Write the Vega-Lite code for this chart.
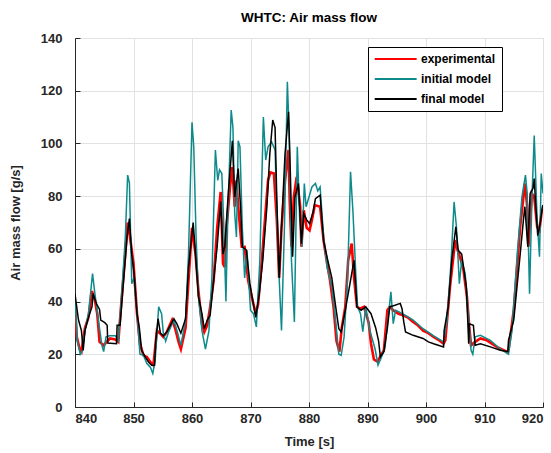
{
  "$schema": "https://vega.github.io/schema/vega-lite/v6.json",
  "width": 468,
  "height": 369,
  "autosize": {"type": "none"},
  "padding": {"left": 75, "top": 38, "right": 8, "bottom": 46},
  "background": "white",
  "title": {"text": "WHTC: Air mass flow", "font": "Liberation Sans", "fontSize": 13.5, "fontWeight": "bold", "color": "#000000", "anchor": "middle", "offset": 8},
  "config": {
    "view": {"stroke": "#c8c8c8", "strokeWidth": 1},
    "axis": {
      "labelFont": "Liberation Sans", "labelFontWeight": "bold", "labelFontSize": 13, "labelColor": "#262626",
      "titleFont": "Liberation Sans", "titleFontWeight": "bold", "titleFontSize": 13, "titleColor": "#262626",
      "domainColor": "#262626", "tickColor": "#262626", "tickSize": -5, "gridColor": "#e2e2e2", "gridWidth": 1
    },
    "legend": {
      "orient": "none", "legendX": 293, "legendY": 9, "direction": "vertical",
      "fillColor": "white", "strokeColor": "#000000", "padding": 6,
      "symbolType": "M-1.2,0H8.3", "symbolSize": 78, "symbolStrokeWidth": 2,
      "labelFont": "Liberation Sans", "labelFontWeight": "bold", "labelFontSize": 12, "labelColor": "#000000",
      "labelOffset": 35, "rowPadding": 8, "title": null
    }
  },
  "datasets": {
    "exp": [
      {"t":840.0,"v":38.6},{"t":840.3,"v":26.6},{"t":840.8,"v":22},{"t":841.1,"v":21},{"t":841.7,"v":30},{"t":842.3,"v":34},{"t":842.9,"v":44},{"t":843.4,"v":40.5},{"t":843.8,"v":35.4},{"t":844.2,"v":24.7},{"t":844.9,"v":23.4},{"t":845.4,"v":24.7},{"t":846.0,"v":26},{"t":846.9,"v":25.6},{"t":847.4,"v":24.7},{"t":848.0,"v":41.8},{"t":848.6,"v":58},{"t":849.0,"v":70},{"t":849.4,"v":64.5},{"t":850.0,"v":54.4},{"t":850.6,"v":35.4},{"t":851.1,"v":24},{"t":851.7,"v":19.6},{"t":852.3,"v":19},{"t":852.9,"v":17},{"t":853.4,"v":15.8},{"t":854.0,"v":29},{"t":854.5,"v":28},{"t":855.1,"v":26.6},{"t":855.7,"v":28.5},{"t":856.6,"v":33},{"t":857.1,"v":30},{"t":857.7,"v":24.7},{"t":858.1,"v":22},{"t":858.9,"v":30},{"t":859.4,"v":48},{"t":860.0,"v":68},{"t":860.6,"v":58},{"t":861.1,"v":44},{"t":861.7,"v":31.6},{"t":862.1,"v":28.5},{"t":862.6,"v":31},{"t":863.1,"v":38},{"t":863.7,"v":48},{"t":864.3,"v":68},{"t":864.9,"v":81.6},{"t":865.3,"v":54.4},{"t":865.6,"v":53},{"t":865.9,"v":68},{"t":866.5,"v":83.5},{"t":866.9,"v":91},{"t":867.3,"v":76},{"t":867.6,"v":86},{"t":867.9,"v":76},{"t":868.5,"v":60.8},{"t":869.0,"v":60.8},{"t":869.6,"v":48},{"t":870.2,"v":41.8},{"t":870.9,"v":35.4},{"t":871.3,"v":39},{"t":871.9,"v":54.4},{"t":872.5,"v":72},{"t":873.0,"v":86},{"t":873.4,"v":89},{"t":874.0,"v":88.6},{"t":874.5,"v":71},{"t":874.9,"v":49},{"t":875.3,"v":68},{"t":875.9,"v":86},{"t":876.5,"v":97.5},{"t":876.7,"v":78.5},{"t":877.0,"v":60.8},{"t":877.4,"v":79.7},{"t":877.9,"v":87.3},{"t":878.5,"v":76},{"t":878.7,"v":60.8},{"t":879.1,"v":74.7},{"t":879.6,"v":68},{"t":880.1,"v":67},{"t":880.5,"v":71},{"t":881.0,"v":76.6},{"t":881.9,"v":76},{"t":882.5,"v":63},{"t":883.1,"v":54.4},{"t":883.6,"v":48},{"t":884.2,"v":38},{"t":884.7,"v":25},{"t":885.2,"v":21},{"t":885.6,"v":30},{"t":886.2,"v":38},{"t":886.7,"v":55.7},{"t":887.3,"v":62},{"t":887.7,"v":49},{"t":888.2,"v":38},{"t":888.7,"v":37.3},{"t":889.4,"v":38},{"t":890.2,"v":32},{"t":890.6,"v":24},{"t":891.1,"v":18},{"t":891.7,"v":17.2},{"t":892.3,"v":19.6},{"t":892.8,"v":21.6},{"t":893.4,"v":36.7},{"t":893.8,"v":38},{"t":894.4,"v":36.7},{"t":895.3,"v":35.4},{"t":896.1,"v":34.8},{"t":897.0,"v":33.8},{"t":897.8,"v":32.3},{"t":898.6,"v":31},{"t":899.5,"v":29},{"t":900.4,"v":28},{"t":901.3,"v":26.6},{"t":902.2,"v":25.4},{"t":903.0,"v":24},{"t":903.3,"v":25.3},{"t":904.1,"v":45.6},{"t":905.0,"v":63.3},{"t":905.4,"v":59.5},{"t":905.8,"v":57},{"t":906.4,"v":52},{"t":907.0,"v":41.8},{"t":907.4,"v":30.4},{"t":907.7,"v":23.4},{"t":908.4,"v":24.7},{"t":909.3,"v":26},{"t":910.4,"v":25.3},{"t":912.1,"v":22.8},{"t":913.8,"v":21},{"t":914.1,"v":21.5},{"t":915.0,"v":36.7},{"t":916.1,"v":68.4},{"t":916.9,"v":84.8},{"t":917.3,"v":76},{"t":917.5,"v":60.8},{"t":918.1,"v":81},{"t":918.5,"v":79.7},{"t":919.0,"v":68.4},{"t":919.4,"v":67},{"t":919.8,"v":74.7},{"t":920.0,"v":74.7}
    ],
    "ini": [
      {"t":840.0,"v":41.8},{"t":840.4,"v":25},{"t":840.9,"v":20},{"t":841.3,"v":21.5},{"t":841.7,"v":29},{"t":842.3,"v":35.4},{"t":843.0,"v":50.6},{"t":843.4,"v":43},{"t":844.0,"v":33},{"t":844.6,"v":23.4},{"t":844.9,"v":21},{"t":845.3,"v":26.6},{"t":845.9,"v":27},{"t":846.9,"v":27},{"t":847.4,"v":25},{"t":848.0,"v":43},{"t":848.6,"v":64.5},{"t":849.0,"v":88},{"t":849.3,"v":85},{"t":849.7,"v":46.8},{"t":850.1,"v":49},{"t":850.7,"v":33},{"t":851.1,"v":20},{"t":851.7,"v":19.6},{"t":852.3,"v":16.5},{"t":852.9,"v":15},{"t":853.3,"v":12.7},{"t":853.7,"v":17.7},{"t":854.3,"v":38},{"t":854.8,"v":35.4},{"t":855.1,"v":28},{"t":855.5,"v":25},{"t":856.0,"v":28.5},{"t":856.9,"v":33},{"t":857.5,"v":28.5},{"t":858.1,"v":23.4},{"t":858.9,"v":33},{"t":859.4,"v":58},{"t":860.0,"v":108},{"t":860.3,"v":98.7},{"t":860.7,"v":64.5},{"t":861.1,"v":42},{"t":861.7,"v":29},{"t":862.3,"v":22},{"t":862.9,"v":29},{"t":863.4,"v":49},{"t":864.0,"v":97.5},{"t":864.4,"v":86},{"t":864.7,"v":90},{"t":865.1,"v":88.6},{"t":865.4,"v":71},{"t":865.8,"v":40},{"t":866.1,"v":71},{"t":866.7,"v":112.7},{"t":867.0,"v":106},{"t":867.3,"v":73.4},{"t":867.6,"v":64.5},{"t":867.9,"v":101},{"t":868.2,"v":98.7},{"t":868.6,"v":68},{"t":869.0,"v":49},{"t":869.4,"v":59.5},{"t":870.0,"v":36.7},{"t":870.5,"v":35.4},{"t":871.0,"v":30.4},{"t":871.6,"v":55.7},{"t":872.2,"v":110},{"t":872.6,"v":93.7},{"t":873.0,"v":98.7},{"t":873.6,"v":100.6},{"t":874.2,"v":97.5},{"t":874.6,"v":68},{"t":874.9,"v":49},{"t":875.3,"v":29},{"t":875.8,"v":68},{"t":876.3,"v":123.4},{"t":876.6,"v":105},{"t":877.0,"v":55.7},{"t":877.5,"v":32.3},{"t":878.0,"v":98.7},{"t":878.4,"v":72},{"t":878.8,"v":60.8},{"t":879.2,"v":84.8},{"t":879.5,"v":76},{"t":880.0,"v":79.7},{"t":880.5,"v":83.5},{"t":881.1,"v":84.8},{"t":881.5,"v":82},{"t":881.9,"v":83.5},{"t":882.5,"v":64.5},{"t":883.1,"v":53},{"t":883.9,"v":45.6},{"t":884.5,"v":34},{"t":885.1,"v":20},{"t":885.5,"v":19.6},{"t":886.0,"v":26.6},{"t":886.6,"v":49},{"t":887.1,"v":89.2},{"t":887.5,"v":74.7},{"t":888.0,"v":50.6},{"t":888.3,"v":38},{"t":888.8,"v":35.4},{"t":889.2,"v":28.6},{"t":889.7,"v":38},{"t":890.4,"v":29},{"t":891.3,"v":22},{"t":891.8,"v":15.9},{"t":892.4,"v":19},{"t":893.0,"v":22.8},{"t":894.0,"v":43.7},{"t":894.4,"v":31.6},{"t":894.8,"v":36.7},{"t":895.5,"v":36},{"t":896.7,"v":34.5},{"t":897.8,"v":33},{"t":899.5,"v":29.7},{"t":901.3,"v":27},{"t":903.0,"v":24.7},{"t":903.6,"v":33},{"t":904.3,"v":55.7},{"t":904.8,"v":77.8},{"t":905.2,"v":68.4},{"t":905.7,"v":46.8},{"t":906.1,"v":55.7},{"t":906.7,"v":50.6},{"t":907.3,"v":33},{"t":907.7,"v":21.5},{"t":908.0,"v":20},{"t":908.4,"v":26.6},{"t":909.3,"v":27.2},{"t":911.0,"v":25.3},{"t":912.7,"v":22},{"t":914.1,"v":20},{"t":914.7,"v":29},{"t":915.6,"v":58},{"t":916.4,"v":79.7},{"t":917.0,"v":88},{"t":917.3,"v":81},{"t":917.7,"v":43},{"t":918.1,"v":78.5},{"t":918.5,"v":103},{"t":919.0,"v":71},{"t":919.4,"v":57},{"t":919.7,"v":88.6},{"t":920.0,"v":81}
    ],
    "fin": [
      {"t":840.0,"v":42.8},{"t":840.6,"v":33},{"t":841.1,"v":29},{"t":841.4,"v":21.5},{"t":841.7,"v":29},{"t":842.3,"v":34},{"t":842.9,"v":38},{"t":843.1,"v":43},{"t":843.7,"v":39},{"t":844.2,"v":37},{"t":844.4,"v":33},{"t":845.1,"v":32},{"t":845.5,"v":31},{"t":845.6,"v":24.3},{"t":847.1,"v":24},{"t":847.2,"v":31},{"t":847.7,"v":31},{"t":848.3,"v":48},{"t":848.9,"v":64.5},{"t":849.3,"v":71.5},{"t":849.7,"v":58},{"t":850.1,"v":50.6},{"t":850.6,"v":35.4},{"t":851.0,"v":30},{"t":851.4,"v":21.5},{"t":852.0,"v":19},{"t":852.6,"v":17},{"t":853.1,"v":15.8},{"t":853.6,"v":15.8},{"t":853.8,"v":25},{"t":854.2,"v":33.5},{"t":854.6,"v":28},{"t":855.1,"v":27},{"t":855.7,"v":28.5},{"t":856.3,"v":31},{"t":856.9,"v":33.5},{"t":857.4,"v":31.6},{"t":858.1,"v":28},{"t":858.9,"v":33.5},{"t":859.4,"v":53},{"t":860.2,"v":70},{"t":860.6,"v":58},{"t":861.1,"v":42},{"t":861.7,"v":35.4},{"t":862.1,"v":29.7},{"t":862.6,"v":33},{"t":863.1,"v":34.8},{"t":863.7,"v":48},{"t":864.3,"v":60.8},{"t":864.9,"v":78},{"t":865.3,"v":58},{"t":865.6,"v":60.8},{"t":866.2,"v":81},{"t":866.9,"v":101},{"t":867.3,"v":79.7},{"t":867.9,"v":90.5},{"t":868.3,"v":76},{"t":868.6,"v":60.8},{"t":869.3,"v":59.5},{"t":869.9,"v":46.8},{"t":870.5,"v":39},{"t":870.9,"v":34},{"t":871.5,"v":43},{"t":872.1,"v":55.7},{"t":872.8,"v":76},{"t":873.3,"v":96},{"t":873.8,"v":108.9},{"t":874.2,"v":106},{"t":874.5,"v":78.5},{"t":874.9,"v":49},{"t":875.3,"v":68},{"t":875.9,"v":96},{"t":876.5,"v":112},{"t":876.7,"v":97.5},{"t":877.2,"v":57},{"t":877.6,"v":79.7},{"t":878.2,"v":84.8},{"t":878.7,"v":62},{"t":879.1,"v":73.4},{"t":879.6,"v":71},{"t":880.1,"v":69.6},{"t":880.7,"v":74},{"t":881.1,"v":79},{"t":881.9,"v":80.4},{"t":882.5,"v":63},{"t":883.2,"v":55.7},{"t":883.9,"v":49},{"t":884.5,"v":39},{"t":885.1,"v":29.7},{"t":885.5,"v":28.5},{"t":886.2,"v":36.7},{"t":887.1,"v":48},{"t":887.7,"v":55.7},{"t":888.2,"v":38},{"t":888.9,"v":36.7},{"t":889.7,"v":38},{"t":890.6,"v":35.4},{"t":891.4,"v":30},{"t":891.9,"v":25},{"t":892.2,"v":19},{"t":892.8,"v":21},{"t":893.4,"v":30},{"t":893.8,"v":38},{"t":894.7,"v":38.6},{"t":895.6,"v":39.3},{"t":895.9,"v":37.3},{"t":896.2,"v":32.3},{"t":896.5,"v":28.5},{"t":897.8,"v":27.2},{"t":899.5,"v":26},{"t":900.4,"v":24.7},{"t":901.3,"v":24},{"t":903.0,"v":22.8},{"t":903.1,"v":29},{"t":903.8,"v":38},{"t":904.4,"v":55.7},{"t":905.1,"v":68.4},{"t":905.5,"v":59.5},{"t":906.1,"v":58},{"t":906.9,"v":45.6},{"t":907.3,"v":24},{"t":907.4,"v":31.6},{"t":908.1,"v":31},{"t":908.4,"v":23.4},{"t":909.3,"v":24},{"t":911.0,"v":22.8},{"t":912.7,"v":21.5},{"t":914.0,"v":21},{"t":914.1,"v":25.3},{"t":915.0,"v":33},{"t":916.1,"v":58},{"t":916.7,"v":72},{"t":916.9,"v":76},{"t":917.4,"v":60.8},{"t":917.8,"v":81},{"t":918.3,"v":83},{"t":918.5,"v":86.7},{"t":918.7,"v":78.5},{"t":919.1,"v":65},{"t":919.5,"v":69.6},{"t":919.9,"v":76},{"t":920.0,"v":76.6}
    ]
  },
  "encoding": {
    "x": {"field": "t", "type": "quantitative", "scale": {"domain": [840, 920], "nice": false, "zero": false},
      "axis": {"title": "Time [s]", "values": [840,850,860,870,880,890,900,910,920], "grid": true, "labelPadding": 10, "titlePadding": 10}},
    "y": {"field": "v", "type": "quantitative", "scale": {"domain": [0, 140], "nice": false},
      "axis": {"title": "Air mass flow [g/s]", "values": [0,20,40,60,80,100,120,140], "grid": true, "labelPadding": 18, "titlePadding": 18}}
  },
  "layer": [
    {"data": {"name": "exp"}, "mark": {"type": "line", "strokeWidth": 2.6, "clip": true},
      "encoding": {"color": {"datum": "experimental", "type": "nominal",
        "scale": {"domain": ["experimental", "initial model", "final model"], "range": ["#ff0000", "#0e8a8c", "#000000"]}}}},
    {"data": {"name": "ini"}, "mark": {"type": "line", "strokeWidth": 1.5, "clip": true},
      "encoding": {"color": {"datum": "initial model", "type": "nominal"}}},
    {"data": {"name": "fin"}, "mark": {"type": "line", "strokeWidth": 1.5, "clip": true},
      "encoding": {"color": {"datum": "final model", "type": "nominal"}}}
  ]
}
